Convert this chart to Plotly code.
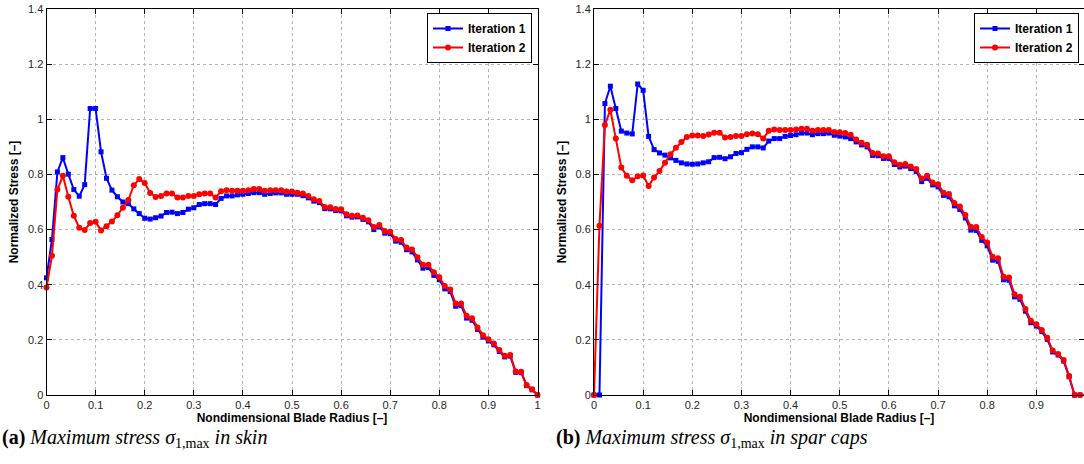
import plotly.graph_objects as go

# radial stations (91 points, 0..1)
radius = [0.0, 0.0111, 0.0222, 0.0333, 0.0444, 0.0556, 0.0667, 0.0778, 0.0889, 0.1,
          0.1111, 0.1222, 0.1333, 0.1444, 0.1556, 0.1667, 0.1778, 0.1889, 0.2, 0.2111,
          0.2222, 0.2333, 0.2444, 0.2556, 0.2667, 0.2778, 0.2889, 0.3, 0.3111, 0.3222,
          0.3333, 0.3444, 0.3556, 0.3667, 0.3778, 0.3889, 0.4, 0.4111, 0.4222, 0.4333,
          0.4444, 0.4556, 0.4667, 0.4778, 0.4889, 0.5, 0.5111, 0.5222, 0.5333, 0.5444,
          0.5556, 0.5667, 0.5778, 0.5889, 0.6, 0.6111, 0.6222, 0.6333, 0.6444, 0.6556,
          0.6667, 0.6778, 0.6889, 0.7, 0.7111, 0.7222, 0.7333, 0.7444, 0.7556, 0.7667,
          0.7778, 0.7889, 0.8, 0.8111, 0.8222, 0.8333, 0.8444, 0.8556, 0.8667, 0.8778,
          0.8889, 0.9, 0.9111, 0.9222, 0.9333, 0.9444, 0.9556, 0.9667, 0.9778, 0.9889, 1.0]

# (a) skin
skin_it1 = [0.425, 0.564, 0.809, 0.861, 0.801, 0.745, 0.721, 0.763, 1.039, 1.039,
            0.882, 0.786, 0.743, 0.719, 0.700, 0.694, 0.675, 0.658, 0.641, 0.638,
            0.643, 0.649, 0.662, 0.663, 0.658, 0.662, 0.674, 0.679, 0.691, 0.694,
            0.694, 0.691, 0.713, 0.722, 0.722, 0.726, 0.728, 0.731, 0.734, 0.734,
            0.728, 0.731, 0.733, 0.733, 0.728, 0.728, 0.728, 0.723, 0.715, 0.703,
            0.698, 0.676, 0.675, 0.669, 0.668, 0.650, 0.645, 0.646, 0.637, 0.628,
            0.600, 0.610, 0.587, 0.585, 0.558, 0.554, 0.527, 0.519, 0.490, 0.460,
            0.462, 0.434, 0.418, 0.385, 0.375, 0.322, 0.324, 0.279, 0.271, 0.238,
            0.210, 0.196, 0.182, 0.158, 0.138, 0.141, 0.082, 0.081, 0.034, 0.019, 0.0]
skin_it2 = [0.390, 0.505, 0.745, 0.795, 0.719, 0.650, 0.607, 0.598, 0.624, 0.628,
            0.597, 0.612, 0.629, 0.652, 0.679, 0.707, 0.761, 0.783, 0.769, 0.733,
            0.718, 0.722, 0.731, 0.731, 0.716, 0.716, 0.722, 0.722, 0.728, 0.731,
            0.731, 0.716, 0.739, 0.743, 0.741, 0.741, 0.741, 0.743, 0.747, 0.747,
            0.741, 0.743, 0.743, 0.743, 0.738, 0.738, 0.734, 0.731, 0.722, 0.710,
            0.704, 0.682, 0.681, 0.675, 0.674, 0.656, 0.650, 0.651, 0.643, 0.634,
            0.609, 0.617, 0.595, 0.592, 0.566, 0.562, 0.535, 0.528, 0.500, 0.472,
            0.472, 0.445, 0.427, 0.395, 0.383, 0.332, 0.332, 0.287, 0.278, 0.245,
            0.217, 0.202, 0.187, 0.163, 0.142, 0.145, 0.085, 0.084, 0.036, 0.021, 0.0]

# (b) spar caps
spar_it1 = [0.0, 0.0, 1.057, 1.120, 1.039, 0.957, 0.950, 0.947, 1.128, 1.105,
            0.938, 0.890, 0.878, 0.870, 0.860, 0.851, 0.842, 0.838, 0.837, 0.838,
            0.842, 0.846, 0.861, 0.862, 0.857, 0.864, 0.876, 0.879, 0.891, 0.900,
            0.900, 0.896, 0.921, 0.930, 0.930, 0.938, 0.941, 0.944, 0.950, 0.950,
            0.944, 0.948, 0.948, 0.950, 0.942, 0.939, 0.936, 0.930, 0.918, 0.907,
            0.900, 0.869, 0.868, 0.858, 0.858, 0.836, 0.827, 0.830, 0.821, 0.811,
            0.774, 0.786, 0.762, 0.755, 0.724, 0.719, 0.686, 0.673, 0.642, 0.598,
            0.597, 0.561, 0.541, 0.489, 0.485, 0.418, 0.416, 0.356, 0.347, 0.304,
            0.262, 0.250, 0.230, 0.202, 0.156, 0.145, 0.123, 0.066, 0.0, 0.0, 0.0]
spar_it2 = [0.0, 0.614, 0.979, 1.035, 0.930, 0.825, 0.795, 0.779, 0.793, 0.796,
            0.758, 0.789, 0.812, 0.842, 0.873, 0.897, 0.918, 0.936, 0.941, 0.941,
            0.939, 0.945, 0.951, 0.951, 0.934, 0.936, 0.939, 0.939, 0.946, 0.948,
            0.946, 0.930, 0.958, 0.963, 0.961, 0.961, 0.961, 0.963, 0.966, 0.966,
            0.958, 0.961, 0.961, 0.961, 0.954, 0.953, 0.950, 0.944, 0.927, 0.915,
            0.908, 0.878, 0.876, 0.866, 0.866, 0.844, 0.835, 0.838, 0.829, 0.820,
            0.785, 0.795, 0.771, 0.764, 0.734, 0.729, 0.696, 0.684, 0.653, 0.610,
            0.609, 0.573, 0.553, 0.501, 0.496, 0.429, 0.426, 0.365, 0.356, 0.312,
            0.269, 0.257, 0.236, 0.208, 0.161, 0.149, 0.127, 0.069, 0.0, 0.0, 0.0]

series_names = ['Iteration 1', 'Iteration 2']
y_ticks = [0, 0.2, 0.4, 0.6, 0.8, 1.0, 1.2, 1.4]
y_ticklabels = ['0', '0.2', '0.4', '0.6', '0.8', '1', '1.2', '1.4']
x_ticks_a = [0, 0.1, 0.2, 0.3, 0.4, 0.5, 0.6, 0.7, 0.8, 0.9, 1.0]
x_ticklabels_a = ['0', '0.1', '0.2', '0.3', '0.4', '0.5', '0.6', '0.7', '0.8', '0.9', '1']
x_ticks_b = x_ticks_a[:-1]
x_ticklabels_b = x_ticklabels_a[:-1]

W, H = 1084, 464
BLUE = '#0000ff'
RED = '#ff0000'
SANS = 'Liberation Sans, Arial, sans-serif'
SERIF = 'Liberation Serif, Times New Roman, serif'

fig = go.Figure()


def add_pair(y1, y2, xa, ya, leg):
    fig.add_trace(go.Scatter(x=radius, y=y1, mode='lines+markers', name='<b>' + series_names[0] + '</b>',
                             line=dict(color=BLUE, width=2), marker=dict(symbol='square', size=5, color=BLUE),
                             xaxis=xa, yaxis=ya, legend=leg, cliponaxis=False))
    fig.add_trace(go.Scatter(x=radius, y=y2, mode='lines+markers', name='<b>' + series_names[1] + '</b>',
                             line=dict(color=RED, width=2), marker=dict(symbol='circle', size=6, color=RED),
                             xaxis=xa, yaxis=ya, legend=leg, cliponaxis=False))


add_pair(skin_it1, skin_it2, 'x', 'y', 'legend')
add_pair(spar_it1, spar_it2, 'x2', 'y2', 'legend2')

y_dom = [(H - 395) / H, (H - 9) / H]
axis_common = dict(showline=True, linecolor='black', linewidth=1, mirror='allticks',
                   ticks='inside', ticklen=5, tickcolor='black',
                   showgrid=True, gridcolor='#b4b4b4', griddash='dot', gridwidth=1,
                   zeroline=False, automargin=False,
                   tickfont=dict(family=SANS, size=11, color='#262626'))

xtitle = dict(text='<b>Nondimensional Blade Radius [–]</b>', font=dict(family=SANS, size=12, color='black'), standoff=1)
ytitle = dict(text='<b>Normalized Stress [–]</b>', font=dict(family=SANS, size=12, color='black'), standoff=6)

legend_common = dict(y=(H - 13) / H, xanchor='right', yanchor='top',
                     bgcolor='white', bordercolor='black', borderwidth=1,
                     font=dict(family=SANS, size=12, color='black'), itemwidth=30, tracegroupgap=0)

fig.update_layout(
    width=W, height=H,
    margin=dict(l=0, r=0, t=0, b=0, pad=0),
    paper_bgcolor='white', plot_bgcolor='white',
    xaxis=dict(domain=[46.5 / W, 537.5 / W], range=[0, 1], tickvals=x_ticks_a, ticktext=x_ticklabels_a,
               anchor='y', title=xtitle, **axis_common),
    yaxis=dict(domain=y_dom, range=[0, 1.4], tickvals=y_ticks, ticktext=y_ticklabels,
               anchor='x', title=ytitle, **axis_common),
    xaxis2=dict(domain=[594 / W, 1.0], range=[0, 0.997], tickvals=x_ticks_b, ticktext=x_ticklabels_b,
                anchor='y2', title=xtitle, **axis_common),
    yaxis2=dict(domain=y_dom, range=[0, 1.4], tickvals=y_ticks, ticktext=y_ticklabels,
                anchor='x2', title=ytitle, **axis_common),
    legend=dict(x=532 / W, **legend_common),
    legend2=dict(x=1079 / W, **legend_common),
    showlegend=True,
)

captions = [
    (0, '<b>(a)</b> <i>Maximum stress σ</i><sub>1,max</sub> <i>in skin</i>'),
    (554, '<b>(b)</b> <i>Maximum stress σ</i><sub>1,max</sub> <i>in spar caps</i>'),
]
for px, txt in captions:
    fig.add_annotation(x=px / W, y=(H - 438) / H, xref='paper', yref='paper', text=txt,
                       showarrow=False, xanchor='left', yanchor='middle',
                       font=dict(family=SERIF, size=20, color='black'))

# the page body has a default 8px margin; drop it so the figure sits at the window corner
fig.write_html('out.html', config={'displayModeBar': False},
               post_script="document.body.style.margin='0px';")
